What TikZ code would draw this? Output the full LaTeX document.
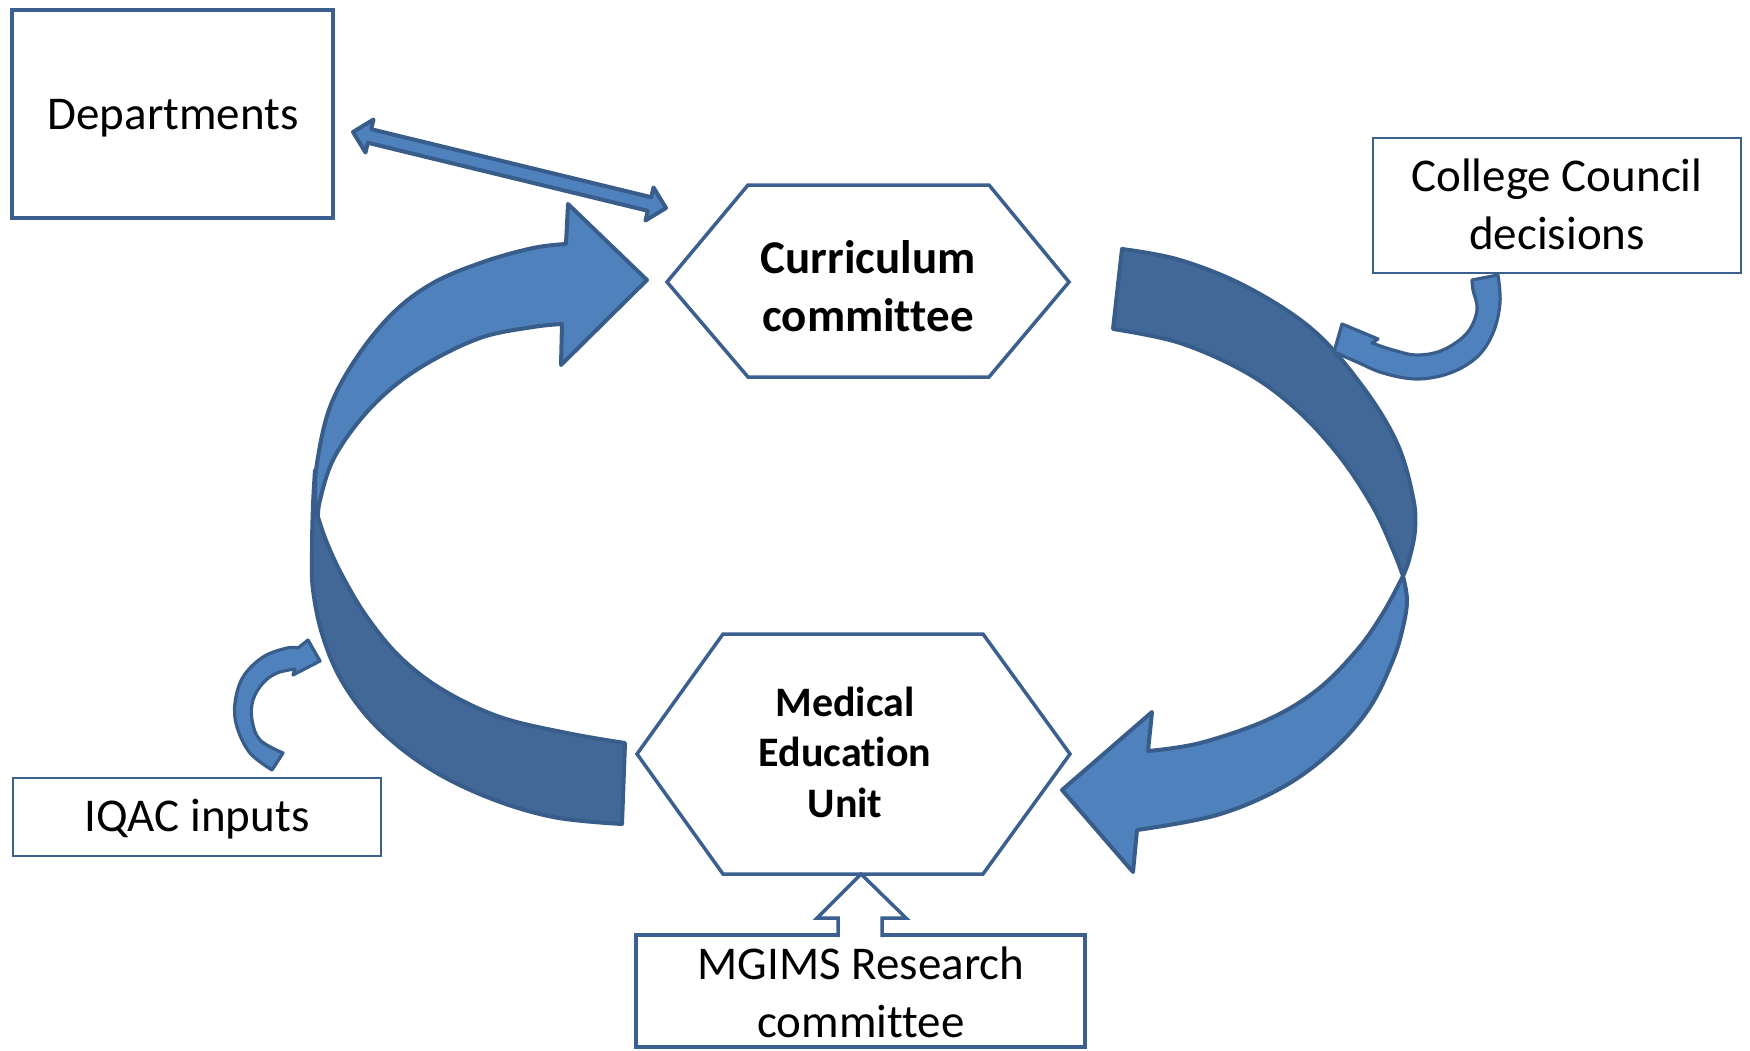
\documentclass[tikz,border=0pt]{standalone}
\usepackage{fontspec}
\setmainfont{Carlito}[Ligatures={NoCommon}]
\definecolor{bandlight}{HTML}{4F81BD}
\definecolor{banddark}{HTML}{416897}
\definecolor{bandedge}{HTML}{385D8A}
\definecolor{boxedge}{HTML}{3B6090}
\begin{document}
\begin{tikzpicture}[x=0.5pt,y=-0.5pt]
\tikzset{
  frontband/.style={fill=bandlight, draw=bandedge, line width=2pt, line join=round},
  backband/.style={fill=banddark, draw=bandedge, line width=2pt, line join=round},
  smallarrow/.style={fill=bandlight, draw=bandedge, line width=1.6pt, line join=round},
  hexbox/.style={draw=boxedge, fill=white, line width=1.75pt, line join=miter},
  framebox/.style={draw=boxedge, fill=white},
  txt/.style={inner sep=0pt, anchor=base, font=\fontsize{23.5}{29}\selectfont},
  txtbold/.style={txt, font=\fontsize{23.5}{29}\selectfont\bfseries},
  txtmeu/.style={txt, font=\fontsize{21}{25.25}\selectfont\bfseries},
}
\useasboundingbox (0,0) rectangle (1750,1050);

% rectangular boxes
\draw[framebox, line width=2.2pt] (12,10) rectangle (333,218);
\draw[framebox, line width=1.25pt] (1373,138) rectangle (1741,273);
\draw[framebox, line width=1.25pt] (13,778) rectangle (381,856);
\draw[framebox, line width=1.75pt] (636,935) rectangle (1085,1047);

% hexagons
\draw[hexbox] (667,282) -- (748,185) -- (989,185) -- (1069,282) -- (989,377) -- (748,377) -- cycle;
\draw[hexbox] (637,754) -- (723,634) -- (983,634) -- (1070,754) -- (983,874) -- (723,874) -- cycle;

% left loop arrow: back face, then front face with head
\draw[backband] plot[smooth, tension=0.6] coordinates {(622,824) (553,817) (487,797) (427,767) (377,727) (343,683) (323,637) (313,590) (312,550) (313,505) (315,470)}
  -- (318,517)
  -- plot[smooth, tension=0.6] coordinates {(318,517) (327,543) (343,577) (367,617) (400,657) (443,690) (500,717) (567,733) (625,743)}
  -- cycle;
\draw[frontband] plot[smooth, tension=0.6] coordinates {(318,518) (315,500) (317,463) (330,407) (357,357) (393,313) (433,283) (483,262) (533,248) (566,244)}
  -- (568,204) -- (647,280) -- (561,365) -- (562,324)
  -- plot[smooth, tension=0.6] coordinates {(562,324) (533,327) (483,337) (433,360) (393,387) (360,420) (333,460) (320,500) (318,518)}
  -- cycle;

% right loop arrow: back face, then front face with head
\draw[backband] plot[smooth, tension=0.6] coordinates {(1122,249) (1180,260) (1247,287) (1313,330) (1363,387) (1397,443) (1413,497) (1415,530) (1409,560) (1403,576)}
  -- plot[smooth, tension=0.6] coordinates {(1403,576) (1393,550) (1373,507) (1340,457) (1297,410) (1247,373) (1180,343) (1113,329)}
  -- cycle;
\draw[frontband] plot[smooth, tension=0.6] coordinates {(1403,576) (1407,600) (1403,627) (1393,660) (1370,707) (1333,750) (1283,787) (1217,815) (1137,830)}
  -- (1133,872) -- (1062,790) -- (1152,712) -- (1148,751)
  -- plot[smooth, tension=0.6] coordinates {(1148,751) (1200,743) (1267,720) (1317,690) (1357,650) (1383,613) (1403,576)}
  -- cycle;

% small curved arrow from the council box
\draw[smallarrow] plot[smooth, tension=0.6] coordinates {(1498,275) (1500,303) (1493,333) (1477,357) (1450,373) (1417,379) (1383,373) (1357,362) (1334,352)}
  -- (1342,324) -- (1378,339) -- (1372,343)
  -- plot[smooth, tension=0.6] coordinates {(1372,343) (1393,350) (1417,355) (1443,350) (1467,333) (1477,310) (1473,290) (1472,280)}
  -- cycle;

% small curved arrow from the IQAC box
\draw[smallarrow] plot[smooth, tension=0.6] coordinates {(272,770) (250,753) (237,727) (235,703) (243,677) (263,657) (287,648) (298,648)}
  -- (308,640) -- (320,661) -- (293,675) -- (295,669)
  -- plot[smooth, tension=0.6] coordinates {(295,669) (277,673) (263,683) (253,700) (252,720) (260,740) (283,753)}
  -- cycle;

% double-headed block arrow
\draw[frontband] (353,132) -- (373.5,119.5) -- (371.2,129.2) -- (651.2,197.2) -- (653.5,187.5) -- (666,208)
  -- (645.5,220.5) -- (647.8,210.8) -- (367.8,142.8) -- (365.5,152.5) -- cycle;

% open block arrow into the education unit
\fill[white] (861,874) -- (906,918) -- (882,918) -- (882,939) -- (838,939) -- (838,918) -- (817,918) -- cycle;
\draw[draw=boxedge, line width=1.75pt, line join=miter] (882,937) -- (882,918) -- (906,918) -- (861,874) -- (817,918) -- (838,918) -- (838,937);

% labels
\node[txt] (dept) at (173,129) {Departments};
\node[txtbold] (curr) at (868,273) {\begin{tabular}[t]{@{}c@{}}Curriculum\\committee\end{tabular}};
\node[txt] (council) at (1557,191) {\begin{tabular}[t]{@{}c@{}}College Council\\decisions\end{tabular}};
\node[txtmeu] (meu) at (845,716) {\begin{tabular}[t]{@{}c@{}}Medical\\Education\\Unit\end{tabular}};
\node[txt] (iqac) at (197,831) {IQAC inputs};
\node[txt] (mgims) at (861,979) {\begin{tabular}[t]{@{}c@{}}MGIMS Research\\committee\end{tabular}};
\end{tikzpicture}
\end{document}
